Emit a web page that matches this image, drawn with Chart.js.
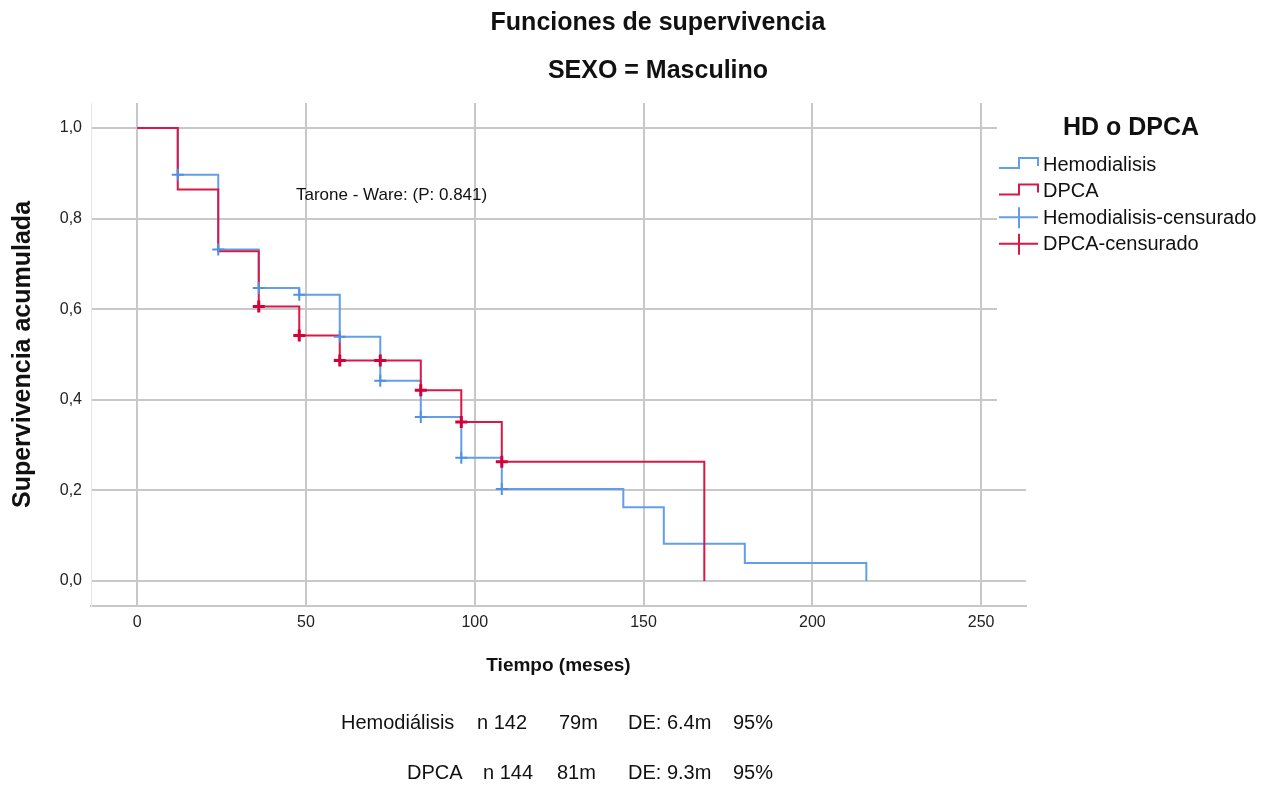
<!DOCTYPE html>
<html>
<head>
<meta charset="utf-8">
<script src="https://cdn.jsdelivr.net/npm/chart.js@4.4.0/dist/chart.umd.min.js"></script>
<style>
  body { margin: 0; background: #fff; }
  #wrap { width: 1281px; height: 787px; }
</style>
</head>
<body>
<div id="wrap"><canvas id="chartKM"></canvas></div>
<script>
// tiempos (meses) y supervivencia acumulada
const hdTiempo = [0, 12, 24, 36, 48, 60, 72, 84, 96, 108, 144, 156, 180, 216];
const hdSuperv = [1, 0.897, 0.732, 0.647, 0.632, 0.539, 0.442, 0.362, 0.272, 0.203, 0.163, 0.082, 0.040, 0];
const dpTiempo = [0, 12, 24, 36, 48, 60, 84, 96, 108, 168];
const dpSuperv = [1, 0.864, 0.728, 0.606, 0.542, 0.487, 0.421, 0.351, 0.263, 0];

// casos censurados
const hdCensTiempo = [12, 24, 36, 48, 60, 72, 84, 96, 108];
const hdCensSuperv = [0.897, 0.732, 0.647, 0.632, 0.539, 0.442, 0.362, 0.272, 0.203];
const dpCensTiempo = [36, 48, 60, 72, 84, 96, 108];
const dpCensSuperv = [0.606, 0.542, 0.487, 0.487, 0.421, 0.351, 0.263];

const xTicks = [0, 50, 100, 150, 200, 250];
const yTicks = [0, 0.2, 0.4, 0.6, 0.8, 1.0];

const nombres = ["Hemodialisis", "DPCA", "Hemodialisis-censurado", "DPCA-censurado"];

const resumen = [
    ["Hemodiálisis", "n 142", "79m", "DE: 6.4m", "95%"],
    ["DPCA", "n 144", "81m", "DE: 9.3m", "95%"]
];

const AZUL = "#629fe8";
const ROJO = "#d81847";
const GRIS = "#c8c8c8";
const FUENTE = "'Liberation Sans', Arial, sans-serif";

Chart.defaults.font.family = FUENTE;
Chart.defaults.color = "#222";

const zip = (xs, ys) => xs.map((x, i) => ({ x: x, y: ys[i] }));

// titulos, anotacion, leyenda y tabla inferior
const decor = {
    id: "decor",
    afterDraw(chart) {
        const ctx = chart.ctx;
        ctx.save();
        ctx.fillStyle = "#111";
        ctx.textBaseline = "middle";
        ctx.textAlign = "center";
        ctx.font = "bold 25px " + FUENTE;
        ctx.fillText("Funciones de supervivencia", 658, 23);
        ctx.fillText("SEXO = Masculino", 658, 71);

        ctx.textAlign = "left";
        ctx.font = "17px " + FUENTE;
        ctx.fillText("Tarone - Ware: (P: 0.841)", 296, 195);

        // === Leyenda (tapa la rejilla) ===
        ctx.fillStyle = "#fff";
        ctx.fillRect(997, 96, 284, 350);
        ctx.fillStyle = "#111";
        ctx.textAlign = "center";
        ctx.font = "bold 25px " + FUENTE;
        ctx.fillText("HD o DPCA", 1131, 128);

        ctx.textAlign = "left";
        ctx.font = "20px " + FUENTE;
        const lx = 999;
        chart.data.datasets.forEach((ds, i) => {
            const y = 165 + i * 26.6;
            ctx.strokeStyle = ds.borderColor;
            ctx.lineWidth = 2;
            ctx.beginPath();
            if (ds.showLine) {
                ctx.moveTo(lx, y + 3);
                ctx.lineTo(lx + 20, y + 3);
                ctx.lineTo(lx + 20, y - 7);
                ctx.lineTo(lx + 39, y - 7);
                ctx.lineTo(lx + 39, y + 1);
            } else {
                ctx.moveTo(lx, y - 1);
                ctx.lineTo(lx + 39, y - 1);
                ctx.moveTo(lx + 20, y - 11);
                ctx.lineTo(lx + 20, y + 10);
            }
            ctx.stroke();
            ctx.fillText(ds.label, 1043, y);
        });

        // === Resumen inferior ===
        const colX = [[341, 477, 559, 628, 733], [407, 483, 557, 628, 733]];
        const filaY = [723, 773];
        resumen.forEach((fila, r) => {
            fila.forEach((txt, c) => ctx.fillText(txt, colX[r][c], filaY[r]));
        });
        ctx.restore();
    }
};

new Chart(document.getElementById("chartKM"), {
    type: "scatter",
    data: {
        datasets: [
            {
                label: nombres[0],
                data: zip(hdTiempo, hdSuperv),
                showLine: true,
                stepped: "before",
                borderColor: AZUL,
                borderWidth: 2,
                pointRadius: 0,
                order: 4
            },
            {
                label: nombres[1],
                data: zip(dpTiempo, dpSuperv),
                showLine: true,
                stepped: "before",
                borderColor: ROJO,
                borderWidth: 2,
                pointRadius: 0,
                order: 3
            },
            {
                label: nombres[2],
                data: zip(hdCensTiempo, hdCensSuperv),
                borderColor: AZUL,
                pointStyle: "cross",
                pointRadius: 6,
                pointBorderColor: "#4f92e4",
                pointBorderWidth: 2,
                order: 2
            },
            {
                label: nombres[3],
                data: zip(dpCensTiempo, dpCensSuperv),
                borderColor: ROJO,
                pointStyle: "cross",
                pointRadius: 6,
                pointBorderColor: "#d3003a",
                pointBorderWidth: 3,
                order: 1
            }
        ]
    },
    options: {
        responsive: true,
        maintainAspectRatio: false,
        animation: false,
        events: [],
        layout: { padding: { left: 0, right: 255, top: 103, bottom: 0 } },
        plugins: {
            legend: { display: false },
            tooltip: { enabled: false }
        },
        scales: {
            x: {
                type: "linear",
                min: -13.7,
                max: 263.3,
                afterFit: s => { s.height = 181; },
                afterBuildTicks: s => { s.ticks = xTicks.map(v => ({ value: v })); },
                ticks: { font: { size: 16 }, padding: 7, maxRotation: 0 },
                grid: { color: GRIS, lineWidth: 2, drawTicks: false },
                border: { display: true, color: GRIS, width: 2 },
                title: {
                    display: true,
                    text: "Tiempo (meses)",
                    font: { size: 19, weight: "bold" },
                    color: "#111",
                    padding: { top: 0, bottom: 110 }
                }
            },
            y: {
                type: "linear",
                min: -0.0552,
                max: 1.0552,
                afterFit: s => { s.width = 91; },
                afterBuildTicks: s => { s.ticks = yTicks.map(v => ({ value: v })); },
                ticks: {
                    font: { size: 16 },
                    padding: 9,
                    callback: v => v.toFixed(1).replace(".", ",")
                },
                grid: { color: GRIS, lineWidth: 2, drawTicks: false },
                border: { display: true, color: "#e6e6e6", width: 1 },
                title: {
                    display: true,
                    text: "Supervivencia acumulada",
                    font: { size: 25, weight: "bold" },
                    color: "#111",
                    padding: { top: 8, bottom: 0 }
                }
            }
        }
    },
    plugins: [decor]
});
</script>
</body>
</html>
